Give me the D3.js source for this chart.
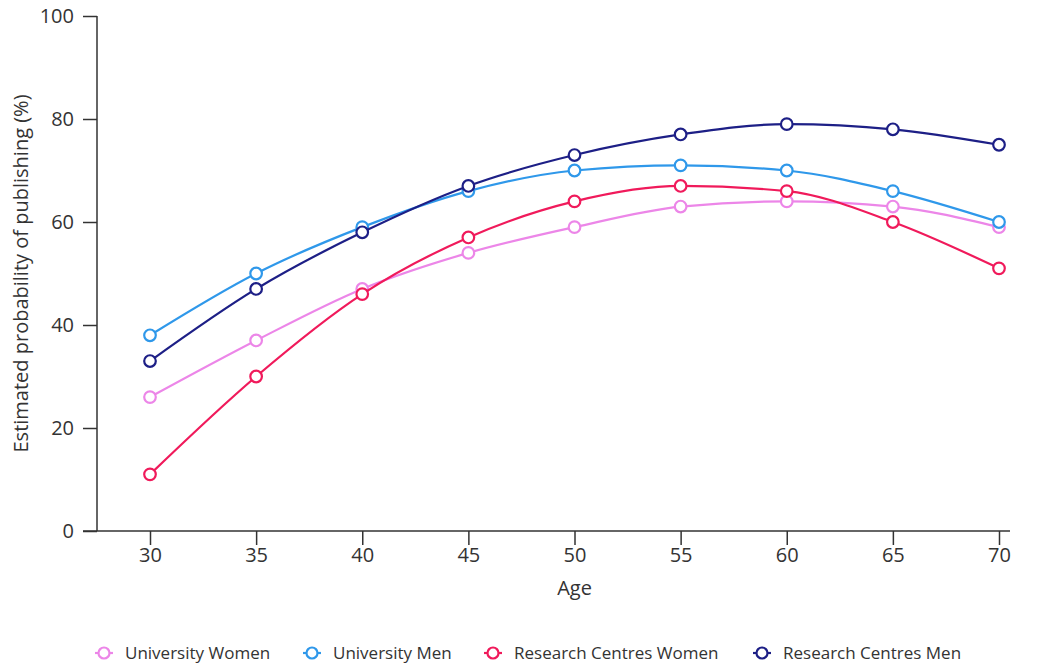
<!DOCTYPE html>
<html>
<head>
<meta charset="utf-8">
<script src="https://cdn.jsdelivr.net/npm/d3@7"></script>
<style>
  body { margin: 0; background: #fff; }
  text { font-family: "Open Sans", sans-serif; fill: #333; }
</style>
</head>
<body>
<div id="container"></div>
<script>
// values
const ages = [30, 35, 40, 45, 50, 55, 60, 65, 70];
const seriesNames = ["University Women", "University Men", "Research Centres Women", "Research Centres Men"];
const universityWomen = [26, 37, 47, 54, 59, 63, 64, 63, 59];
const universityMen = [38, 50, 59, 66, 70, 71, 70, 66, 60];
const researchWomen = [11, 30, 46, 57, 64, 67, 66, 60, 51];
const researchMen = [33, 47, 58, 67, 73, 77, 79, 78, 75];
const yTicks = [0, 20, 40, 60, 80, 100];

const colors = ["#ec86e8", "#2f98ea", "#f01a5b", "#1d1f86"];
const series = [universityWomen, universityMen, researchWomen, researchMen];

const width = 1042, height = 663;
const viz = d3.select("#container")
  .append("svg")
  .attr("width", width)
  .attr("height", height);

let x = d3.scaleLinear().domain([30, 70]).range([150, 999]);
let y = d3.scaleLinear().domain([0, 100]).range([531, 16]);

// y axis
let yAxisG = viz.append("g")
  .attr("transform", "translate(97, 0)")
  .call(d3.axisLeft(y).tickValues(yTicks).tickSize(14).tickPadding(9));
// x axis
let xAxisG = viz.append("g")
  .attr("transform", "translate(0, 531)")
  .call(d3.axisBottom(x).tickValues(ages).tickSize(14).tickPadding(3));

[yAxisG, xAxisG].forEach(g => {
  g.select(".domain").attr("stroke", "#333").attr("stroke-width", 1.5);
  g.selectAll(".tick line").attr("stroke", "#333").attr("stroke-width", 1.5);
  g.selectAll(".tick text").attr("font-size", 20).attr("fill", "#333")
    .attr("font-family", "'Open Sans', sans-serif");
});
// y domain only from 0 to 100 (no outer tick), x domain extends left to the y tick start
yAxisG.select(".domain").attr("d", `M0,${y(100)}V${y(0)}`);
xAxisG.select(".domain").attr("d", `M83,0H1010`);

viz.append("text")
  .attr("x", x(50))
  .attr("y", 595)
  .attr("text-anchor", "middle")
  .attr("font-size", 20)
  .text("Age");

viz.append("text")
  .attr("transform", `translate(28, ${y(50)}) rotate(-90)`)
  .attr("text-anchor", "middle")
  .attr("font-size", 20)
  .text("Estimated probability of publishing (%)");

let line = d3.line()
  .x((d, i) => x(ages[i]))
  .y(d => y(d))
  .curve(d3.curveMonotoneX);

series.forEach((vals, s) => {
  let g = viz.append("g");
  g.append("path")
    .attr("d", line(vals))
    .attr("fill", "none")
    .attr("stroke", colors[s])
    .attr("stroke-width", 2.2);
  g.selectAll("circle")
    .data(vals)
    .enter()
    .append("circle")
    .attr("cx", (d, i) => x(ages[i]))
    .attr("cy", d => y(d))
    .attr("r", 5.8)
    .attr("fill", "#fff")
    .attr("stroke", colors[s])
    .attr("stroke-width", 2.2);
});

// legend
const legendX = [104, 312, 493, 762];
let legend = viz.append("g").attr("transform", "translate(0, 653)");
seriesNames.forEach((name, s) => {
  let item = legend.append("g").attr("transform", `translate(${legendX[s]}, 0)`);
  item.append("line")
    .attr("x1", -9).attr("x2", 9)
    .attr("stroke", colors[s]).attr("stroke-width", 2.2);
  item.append("circle")
    .attr("r", 5.5)
    .attr("fill", "#fff")
    .attr("stroke", colors[s]).attr("stroke-width", 2.2);
  item.append("text")
    .attr("x", 21)
    .attr("dy", "0.35em")
    .attr("font-size", 17)
    .text(name);
});
</script>
</body>
</html>
